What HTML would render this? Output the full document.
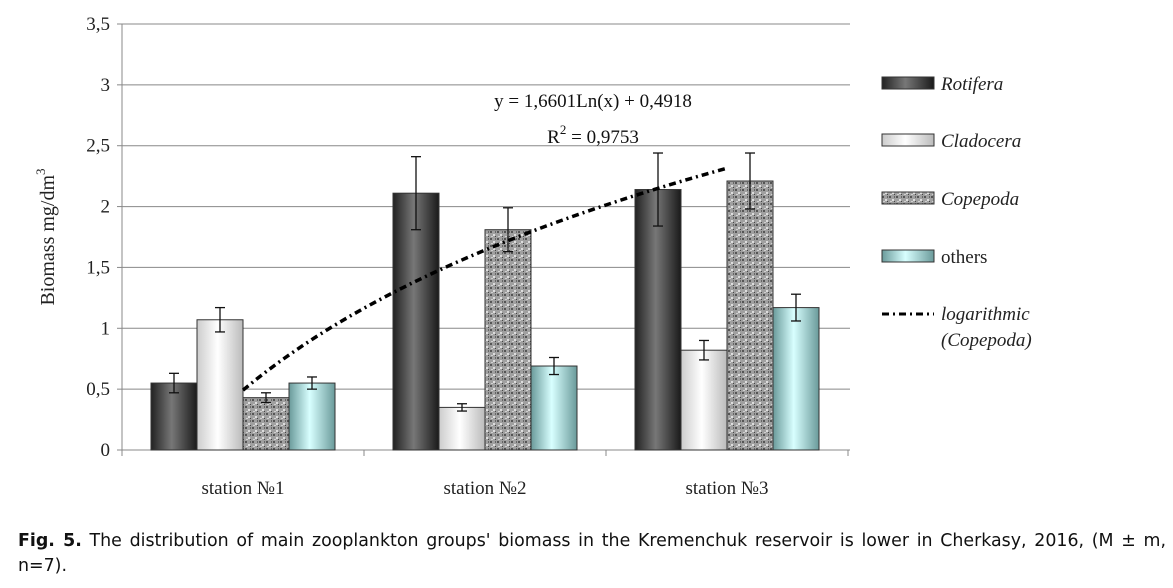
<!DOCTYPE html>
<html><head><meta charset="utf-8"><style>
body{margin:0;background:#fff;width:1173px;height:588px;overflow:hidden}
svg text{font-family:"Liberation Serif",serif}
#cap{position:absolute;left:18px;top:529px;width:1148px;font-family:"DejaVu Sans",sans-serif;font-size:17.4px;line-height:25px;color:#111;text-align:justify}
</style></head><body>
<svg id="chart" width="1173" height="588" style="position:absolute;left:0;top:0">
<defs>
<linearGradient id="gR" x1="0" x2="1"><stop offset="0" stop-color="#222"/><stop offset="0.45" stop-color="#777"/><stop offset="1" stop-color="#1a1a1a"/></linearGradient>
<linearGradient id="gC" x1="0" x2="1"><stop offset="0" stop-color="#ccc"/><stop offset="0.45" stop-color="#fff"/><stop offset="1" stop-color="#bbb"/></linearGradient>
<linearGradient id="gO" x1="0" x2="1"><stop offset="0" stop-color="#6a9a9a"/><stop offset="0.45" stop-color="#d8ffff"/><stop offset="1" stop-color="#6a9a9a"/></linearGradient>
<pattern id="pP" width="7" height="7" patternUnits="userSpaceOnUse"><rect width="7" height="7" fill="#a0a0a0"/><rect x="0" y="0" width="2" height="2" fill="#555"/><rect x="3" y="3" width="2" height="2" fill="#ddd"/><rect x="5" y="0" width="1" height="2" fill="#666"/><rect x="1" y="5" width="2" height="1" fill="#d0d0d0"/><rect x="5" y="5" width="1" height="1" fill="#444"/></pattern>
</defs>
<g id="grid"></g><g id="bars"></g><g id="trend"></g><g id="legend"></g>
</svg>
<div id="cap"><b>Fig. 5.</b> The distribution of main zooplankton groups' biomass in the Kremenchuk reservoir is lower in Cherkasy, 2016, (M ± m, n=7).</div>
<script>
const categories=["station №1","station №2","station №3"];
const seriesNames=["Rotifera","Cladocera","Copepoda","others"];
const rotifera=[0.55,2.11,2.14];
const cladocera=[1.07,0.35,0.82];
const copepoda=[0.43,1.81,2.21];
const others=[0.55,0.69,1.17];
const errRotifera=[0.08,0.3,0.3];
const errCladocera=[0.1,0.03,0.08];
const errCopepoda=[0.04,0.18,0.23];
const errOthers=[0.05,0.07,0.11];
const yTicks=["0","0,5","1","1,5","2","2,5","3","3,5"];
const trendA=1.6601, trendB=0.4918;

const NS="http://www.w3.org/2000/svg";
const X0=122,X1=848,Y0=450,YT=24,YMAX=3.5;
const catW=(X1-X0)/categories.length, barW=46;
const y=v=>Y0-(v/YMAX)*(Y0-YT);
const xc=i=>X0+catW*(i+0.5);
function mk(tag,attrs,parent,txt){const e=document.createElementNS(NS,tag);for(const k in attrs)e.setAttribute(k,attrs[k]);if(txt!==undefined)e.textContent=txt;parent.appendChild(e);return e;}
const grid=document.getElementById('grid');
yTicks.forEach((t,i)=>{const v=i*0.5;
 const l=mk('line',{x1:X0,x2:X1+2,y1:y(v),y2:y(v),stroke:'#888','stroke-width':1},grid);
 
 const tx=mk('text',{x:X0-12,y:y(v)+6,'text-anchor':'end','font-size':19,fill:'#222'},grid,t);
 
 mk('line',{x1:X0-5,x2:X0,y1:y(v),y2:y(v),stroke:'#888'},grid);
});
const ax=mk('line',{x1:X0,x2:X0,y1:YT,y2:Y0,stroke:'#888'},grid);

for(let i=0;i<=categories.length;i++){mk('line',{x1:X0+catW*i,x2:X0+catW*i,y1:Y0,y2:Y0+6,stroke:'#888'},grid);}
categories.forEach((c,i)=>{const t=mk('text',{x:xc(i),y:Y0+44,'text-anchor':'middle','font-size':19,fill:'#222'},grid,c);
 });
const yt=mk('text',{transform:'translate(54,237) rotate(-90)','text-anchor':'middle','font-size':20,fill:'#222'},grid);

yt.innerHTML='Biomass mg/dm<tspan dy="-9" font-size="13">3</tspan>';
const series=[rotifera,cladocera,copepoda,others];
const errs=[errRotifera,errCladocera,errCopepoda,errOthers];
const fills=['url(#gR)','url(#gC)','url(#pP)','url(#gO)'];
const bars=document.getElementById('bars');
series.forEach((s,j)=>s.forEach((v,i)=>{
 const x=xc(i)-2*barW+j*barW;
 const r=mk('rect',{x:x,y:y(v),width:barW,height:Y0-y(v),fill:fills[j],stroke:'#333','stroke-width':1},bars);
 
 const e=errs[j][i],cx=x+barW/2;
 const g=mk('g',{stroke:'#111','stroke-width':1.3},bars);
 
 mk('line',{x1:cx,x2:cx,y1:y(v+e),y2:y(v-e)},g);
 mk('line',{x1:cx-5,x2:cx+5,y1:y(v+e),y2:y(v+e)},g);
 mk('line',{x1:cx-5,x2:cx+5,y1:y(v-e),y2:y(v-e)},g);
}));
const trend=document.getElementById('trend');
let pts=[];for(let k=0;k<=40;k++){const xv=1+2*k/40;pts.push((xc(0)+(xc(2)-xc(0))*(xv-1)/2)+','+y(trendA*Math.log(xv)+trendB));}
const pl=mk('polyline',{points:pts.join(' '),fill:'none',stroke:'#000','stroke-width':3.5,'stroke-dasharray':'7 4 2 4'},trend);

const eq=mk('text',{x:593,y:107,'text-anchor':'middle','font-size':19,fill:'#111'},trend,'y = 1,6601Ln(x) + 0,4918');

const r2=mk('text',{x:593,y:143,'text-anchor':'middle','font-size':19,fill:'#111'},trend);

r2.innerHTML='R<tspan dy="-9" font-size="13">2</tspan><tspan dy="9"> = 0,9753</tspan>';
const lg=document.getElementById('legend');
const ly=[83,140,198,256];
seriesNames.forEach((n,j)=>{const g=mk('g',{},lg);
 
 mk('rect',{x:882,y:ly[j]-6,width:52,height:12,fill:fills[j],stroke:'#333'},g);
 mk('text',{x:941,y:ly[j]+7,'font-size':19,fill:'#222','font-style':j<3?'italic':'normal'},g,n);});
const g5=mk('g',{},lg);
mk('line',{x1:882,x2:934,y1:314,y2:314,stroke:'#000','stroke-width':3,'stroke-dasharray':'7 4 2 4'},g5);
mk('text',{x:941,y:320,'font-size':19,fill:'#222','font-style':'italic'},g5,'logarithmic');
mk('text',{x:941,y:346,'font-size':19,fill:'#222','font-style':'italic'},g5,'(Copepoda)');
</script>
</body></html>
